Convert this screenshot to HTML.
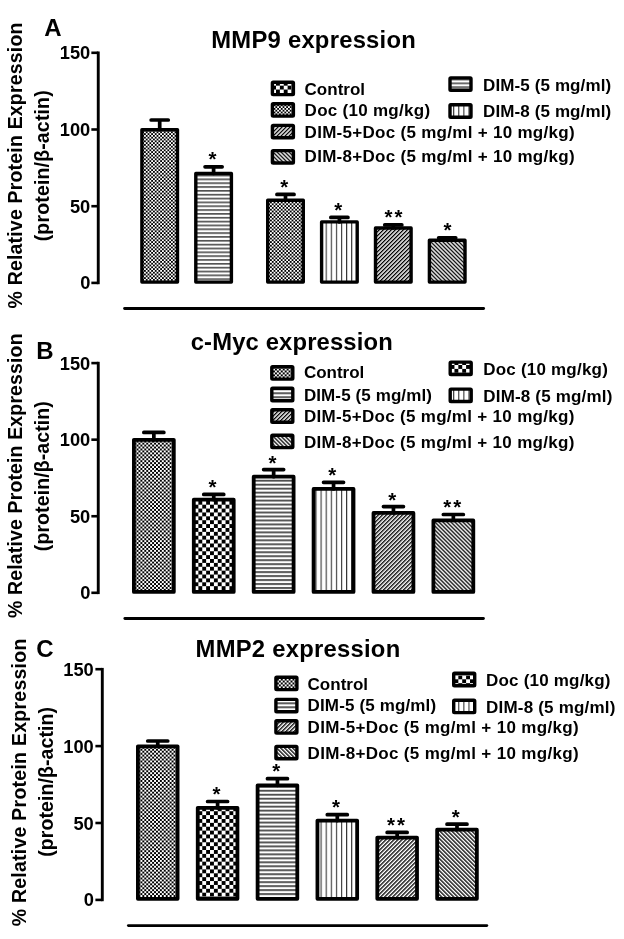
<!DOCTYPE html>
<html lang="en">
<head>
<meta charset="utf-8">
<title>Relative protein expression: MMP9, c-Myc, MMP2</title>
<style>
html,body{margin:0;padding:0;background:#fff;}
body{width:624px;height:939px;overflow:hidden;}
svg{display:block;will-change:transform;}
svg text{font-family:'Liberation Sans', Arial, Helvetica, sans-serif;fill:#000;}
</style>
</head>
<body>
<svg width="624" height="939" viewBox="0 0 624 939">
<rect width="624" height="939" fill="#fff"/>
<defs>
<pattern id="fine" width="3.9" height="3.9" patternUnits="userSpaceOnUse"><rect width="3.9" height="3.9" fill="#fff"/><rect x="0" y="0" width="1.95" height="1.95" fill="#000"/><rect x="1.95" y="1.95" width="1.95" height="1.95" fill="#000"/></pattern>
<pattern id="fineA" width="3.6" height="3.6" patternUnits="userSpaceOnUse"><rect width="3.6" height="3.6" fill="#fff"/><rect x="0" y="0" width="1.8" height="1.8" fill="#000"/><rect x="1.8" y="1.8" width="1.8" height="1.8" fill="#000"/></pattern>
<pattern id="coarse" width="7.76" height="7.76" patternUnits="userSpaceOnUse" x="0.5" y="0.3"><rect width="7.76" height="7.76" fill="#fff"/><rect x="0" y="0" width="3.88" height="3.88" fill="#000"/><rect x="3.88" y="3.88" width="3.88" height="3.88" fill="#000"/></pattern>
<pattern id="hl" width="8" height="3.975" patternUnits="userSpaceOnUse" y="2.77"><rect width="8" height="3.975" fill="#fff"/><rect x="0" y="0" width="8" height="1.8" fill="#484848"/></pattern>
<pattern id="hlA" width="8" height="3.84" patternUnits="userSpaceOnUse" y="1.85"><rect width="8" height="3.84" fill="#fff"/><rect x="0" y="0" width="8" height="1.65" fill="#505050"/></pattern>
<pattern id="vl" width="5.1" height="8" patternUnits="userSpaceOnUse" x="4.35"><rect width="5.1" height="8" fill="#fff"/><rect x="0" y="0" width="1.1" height="8" fill="#333"/></pattern>
<pattern id="dg1" width="2.83" height="2.83" patternUnits="userSpaceOnUse" patternTransform="rotate(45)"><rect width="2.83" height="2.83" fill="#fff"/><rect x="0" y="0" width="1.32" height="2.83" fill="#000"/></pattern>
<pattern id="dg2" width="2.83" height="2.83" patternUnits="userSpaceOnUse" patternTransform="rotate(-45)"><rect width="2.83" height="2.83" fill="#fff"/><rect x="0" y="0" width="1.32" height="2.83" fill="#000"/></pattern>
</defs>
<g>
<path d="M98.25 51.50V284.20" stroke="#000" stroke-width="2.9" fill="none"/>
<path d="M91.35 282.90H98.25" stroke="#000" stroke-width="2.6" fill="none"/>
<text x="90.3" y="289.40" font-size="18.3" font-weight="bold" text-anchor="end">0</text>
<path d="M91.35 206.20H98.25" stroke="#000" stroke-width="2.6" fill="none"/>
<text x="90.3" y="212.70" font-size="18.3" font-weight="bold" text-anchor="end">50</text>
<path d="M91.35 129.50H98.25" stroke="#000" stroke-width="2.6" fill="none"/>
<text x="90.3" y="136.00" font-size="18.3" font-weight="bold" text-anchor="end">100</text>
<path d="M91.35 52.80H98.25" stroke="#000" stroke-width="2.6" fill="none"/>
<text x="90.3" y="59.30" font-size="18.3" font-weight="bold" text-anchor="end">150</text>
<path d="M124.6 308.5H483.6" stroke="#000" stroke-width="2.9" stroke-linecap="round" fill="none"/>
<rect x="141.90" y="129.70" width="35.60" height="152.40" fill="url(#fineA)" stroke="#000" stroke-width="3.4" stroke-linejoin="round"/>
<path d="M151.15 120.00H168.25M159.70 120.00V129.70" stroke="#000" stroke-width="3.7" stroke-linecap="round" fill="none"/>
<rect x="195.80" y="173.50" width="35.60" height="108.60" fill="url(#hlA)" stroke="#000" stroke-width="3.4" stroke-linejoin="round"/>
<path d="M205.05 166.80H222.15M213.60 166.80V173.50" stroke="#000" stroke-width="3.7" stroke-linecap="round" fill="none"/>
<text x="212.40" y="166.05" font-size="20.5" font-weight="bold" text-anchor="middle">*</text>
<rect x="267.70" y="200.20" width="35.60" height="81.90" fill="url(#fineA)" stroke="#000" stroke-width="3.4" stroke-linejoin="round"/>
<path d="M276.95 194.40H294.05M285.50 194.40V200.20" stroke="#000" stroke-width="3.7" stroke-linecap="round" fill="none"/>
<text x="284.30" y="193.65" font-size="20.5" font-weight="bold" text-anchor="middle">*</text>
<rect x="321.60" y="221.90" width="35.60" height="60.20" fill="url(#vl)" stroke="#000" stroke-width="3.4" stroke-linejoin="round"/>
<path d="M330.85 217.40H347.95M339.40 217.40V221.90" stroke="#000" stroke-width="3.7" stroke-linecap="round" fill="none"/>
<text x="338.20" y="216.65" font-size="20.5" font-weight="bold" text-anchor="middle">*</text>
<rect x="375.50" y="228.00" width="35.60" height="54.10" fill="url(#dg1)" stroke="#000" stroke-width="3.4" stroke-linejoin="round"/>
<path d="M384.75 224.90H401.85M393.30 224.90V228.00" stroke="#000" stroke-width="3.7" stroke-linecap="round" fill="none"/>
<text x="394.50" y="224.15" font-size="20.5" font-weight="bold" text-anchor="middle" letter-spacing="2.0">**</text>
<rect x="429.40" y="240.20" width="35.60" height="41.90" fill="url(#dg2)" stroke="#000" stroke-width="3.4" stroke-linejoin="round"/>
<path d="M438.65 237.80H455.75M447.20 237.80V240.20" stroke="#000" stroke-width="3.7" stroke-linecap="round" fill="none"/>
<text x="447.60" y="237.05" font-size="20.5" font-weight="bold" text-anchor="middle">*</text>
<text x="44.3" y="36" font-size="24" font-weight="bold" text-anchor="start">A</text>
<text x="211.3" y="48.2" font-size="23.8" font-weight="bold" text-anchor="start" textLength="204.5" lengthAdjust="spacing">MMP9 expression</text>
<text transform="translate(22.1 165.5) rotate(-90)" font-size="19.5" font-weight="bold" text-anchor="middle" textLength="286" lengthAdjust="spacing">% Relative Protein Expression</text>
<text transform="translate(49.3 165.8) rotate(-90)" font-size="19.5" font-weight="bold" text-anchor="middle" textLength="151" lengthAdjust="spacing">(protein/β-actin)</text>
<rect x="272.40" y="82.20" width="21.00" height="12.40" rx="0.8" fill="url(#coarse)" stroke="#000" stroke-width="3.4" stroke-linejoin="round"/>
<text x="304.6" y="94.6" font-size="17" font-weight="bold" text-anchor="start">Control</text>
<rect x="272.40" y="103.70" width="21.00" height="12.40" rx="0.8" fill="url(#fineA)" stroke="#000" stroke-width="3.4" stroke-linejoin="round"/>
<text x="304.6" y="115.7" font-size="17" font-weight="bold" text-anchor="start" textLength="125.5" lengthAdjust="spacing">Doc (10 mg/kg)</text>
<rect x="272.40" y="125.40" width="21.00" height="12.40" rx="0.8" fill="url(#dg1)" stroke="#000" stroke-width="3.4" stroke-linejoin="round"/>
<text x="304.6" y="138" font-size="17" font-weight="bold" text-anchor="start" textLength="270" lengthAdjust="spacing">DIM-5+Doc (5 mg/ml + 10 mg/kg)</text>
<rect x="272.40" y="150.60" width="21.00" height="12.40" rx="0.8" fill="url(#dg2)" stroke="#000" stroke-width="3.4" stroke-linejoin="round"/>
<text x="304.6" y="162.4" font-size="17" font-weight="bold" text-anchor="start" textLength="270" lengthAdjust="spacing">DIM-8+Doc (5 mg/ml + 10 mg/kg)</text>
<rect x="450.00" y="77.90" width="21.00" height="12.40" rx="0.8" fill="url(#hlA)" stroke="#000" stroke-width="3.4" stroke-linejoin="round"/>
<text x="483.0" y="90.5" font-size="17" font-weight="bold" text-anchor="start" textLength="128.2" lengthAdjust="spacing">DIM-5 (5 mg/ml)</text>
<rect x="450.00" y="104.80" width="21.00" height="12.40" rx="0.8" fill="url(#vl)" stroke="#000" stroke-width="3.4" stroke-linejoin="round"/>
<text x="483.0" y="117.3" font-size="17" font-weight="bold" text-anchor="start" textLength="128.2" lengthAdjust="spacing">DIM-8 (5 mg/ml)</text>
</g>
<g>
<path d="M98.25 361.80V594.10" stroke="#000" stroke-width="2.9" fill="none"/>
<path d="M91.35 592.80H98.25" stroke="#000" stroke-width="2.6" fill="none"/>
<text x="90.3" y="599.30" font-size="18.3" font-weight="bold" text-anchor="end">0</text>
<path d="M91.35 516.23H98.25" stroke="#000" stroke-width="2.6" fill="none"/>
<text x="90.3" y="522.73" font-size="18.3" font-weight="bold" text-anchor="end">50</text>
<path d="M91.35 439.67H98.25" stroke="#000" stroke-width="2.6" fill="none"/>
<text x="90.3" y="446.17" font-size="18.3" font-weight="bold" text-anchor="end">100</text>
<path d="M91.35 363.10H98.25" stroke="#000" stroke-width="2.6" fill="none"/>
<text x="90.3" y="369.60" font-size="18.3" font-weight="bold" text-anchor="end">150</text>
<path d="M124.9 618.5H483.4" stroke="#000" stroke-width="2.9" stroke-linecap="round" fill="none"/>
<rect x="133.90" y="439.80" width="39.90" height="152.10" fill="url(#fine)" stroke="#000" stroke-width="3.8" stroke-linejoin="round"/>
<path d="M143.85 432.40H163.85M153.85 432.40V439.80" stroke="#000" stroke-width="3.7" stroke-linecap="round" fill="none"/>
<rect x="193.80" y="499.70" width="39.90" height="92.20" fill="url(#coarse)" stroke="#000" stroke-width="3.8" stroke-linejoin="round"/>
<path d="M203.75 494.40H223.75M213.75 494.40V499.70" stroke="#000" stroke-width="3.7" stroke-linecap="round" fill="none"/>
<text x="212.55" y="494.35" font-size="20.5" font-weight="bold" text-anchor="middle">*</text>
<rect x="253.70" y="476.70" width="39.90" height="115.20" fill="url(#hl)" stroke="#000" stroke-width="3.8" stroke-linejoin="round"/>
<path d="M263.65 469.60H283.65M273.65 469.60V476.70" stroke="#000" stroke-width="3.7" stroke-linecap="round" fill="none"/>
<text x="272.45" y="469.55" font-size="20.5" font-weight="bold" text-anchor="middle">*</text>
<rect x="313.60" y="488.90" width="39.90" height="103.00" fill="url(#vl)" stroke="#000" stroke-width="3.8" stroke-linejoin="round"/>
<path d="M323.55 482.30H343.55M333.55 482.30V488.90" stroke="#000" stroke-width="3.7" stroke-linecap="round" fill="none"/>
<text x="332.35" y="482.25" font-size="20.5" font-weight="bold" text-anchor="middle">*</text>
<rect x="373.50" y="512.90" width="39.90" height="79.00" fill="url(#dg1)" stroke="#000" stroke-width="3.8" stroke-linejoin="round"/>
<path d="M383.45 506.60H403.45M393.45 506.60V512.90" stroke="#000" stroke-width="3.7" stroke-linecap="round" fill="none"/>
<text x="392.25" y="506.55" font-size="20.5" font-weight="bold" text-anchor="middle">*</text>
<rect x="433.40" y="520.40" width="39.90" height="71.50" fill="url(#dg2)" stroke="#000" stroke-width="3.8" stroke-linejoin="round"/>
<path d="M443.35 514.50H463.35M453.35 514.50V520.40" stroke="#000" stroke-width="3.7" stroke-linecap="round" fill="none"/>
<text x="453.15" y="514.45" font-size="20.5" font-weight="bold" text-anchor="middle" letter-spacing="2.0">**</text>
<text x="36.3" y="359" font-size="24" font-weight="bold" text-anchor="start">B</text>
<text x="190.7" y="350.0" font-size="23.8" font-weight="bold" text-anchor="start" textLength="202" lengthAdjust="spacing">c-Myc expression</text>
<text transform="translate(22.3 475.7) rotate(-90)" font-size="19.5" font-weight="bold" text-anchor="middle" textLength="284.6" lengthAdjust="spacing">% Relative Protein Expression</text>
<text transform="translate(49.2 476.2) rotate(-90)" font-size="19.5" font-weight="bold" text-anchor="middle" textLength="150" lengthAdjust="spacing">(protein/β-actin)</text>
<rect x="271.80" y="366.70" width="21.00" height="12.40" rx="0.8" fill="url(#fine)" stroke="#000" stroke-width="3.4" stroke-linejoin="round"/>
<text x="303.9" y="378.2" font-size="17" font-weight="bold" text-anchor="start">Control</text>
<rect x="271.80" y="388.30" width="21.00" height="12.40" rx="0.8" fill="url(#hl)" stroke="#000" stroke-width="3.4" stroke-linejoin="round"/>
<text x="303.9" y="400.8" font-size="17" font-weight="bold" text-anchor="start" textLength="128" lengthAdjust="spacing">DIM-5 (5 mg/ml)</text>
<rect x="271.80" y="409.80" width="21.00" height="12.40" rx="0.8" fill="url(#dg1)" stroke="#000" stroke-width="3.4" stroke-linejoin="round"/>
<text x="303.9" y="422" font-size="17" font-weight="bold" text-anchor="start" textLength="270.5" lengthAdjust="spacing">DIM-5+Doc (5 mg/ml + 10 mg/kg)</text>
<rect x="271.80" y="435.20" width="21.00" height="12.40" rx="0.8" fill="url(#dg2)" stroke="#000" stroke-width="3.4" stroke-linejoin="round"/>
<text x="303.9" y="448" font-size="17" font-weight="bold" text-anchor="start" textLength="270.5" lengthAdjust="spacing">DIM-8+Doc (5 mg/ml + 10 mg/kg)</text>
<rect x="450.20" y="362.10" width="21.00" height="12.40" rx="0.8" fill="url(#coarse)" stroke="#000" stroke-width="3.4" stroke-linejoin="round"/>
<text x="483.3" y="375" font-size="17" font-weight="bold" text-anchor="start" textLength="124.5" lengthAdjust="spacing">Doc (10 mg/kg)</text>
<rect x="450.20" y="389.10" width="21.00" height="12.40" rx="0.8" fill="url(#vl)" stroke="#000" stroke-width="3.4" stroke-linejoin="round"/>
<text x="483.3" y="402" font-size="17" font-weight="bold" text-anchor="start" textLength="129" lengthAdjust="spacing">DIM-8 (5 mg/ml)</text>
</g>
<g>
<path d="M102.3 667.90V901.20" stroke="#000" stroke-width="2.9" fill="none"/>
<path d="M95.40 899.90H102.3" stroke="#000" stroke-width="2.6" fill="none"/>
<text x="93.8" y="906.40" font-size="18.3" font-weight="bold" text-anchor="end">0</text>
<path d="M95.40 823.00H102.3" stroke="#000" stroke-width="2.6" fill="none"/>
<text x="93.8" y="829.50" font-size="18.3" font-weight="bold" text-anchor="end">50</text>
<path d="M95.40 746.10H102.3" stroke="#000" stroke-width="2.6" fill="none"/>
<text x="93.8" y="752.60" font-size="18.3" font-weight="bold" text-anchor="end">100</text>
<path d="M95.40 669.20H102.3" stroke="#000" stroke-width="2.6" fill="none"/>
<text x="93.8" y="675.70" font-size="18.3" font-weight="bold" text-anchor="end">150</text>
<path d="M128.4 925.6H486.8" stroke="#000" stroke-width="2.9" stroke-linecap="round" fill="none"/>
<rect x="137.90" y="746.30" width="39.70" height="152.50" fill="url(#fine)" stroke="#000" stroke-width="3.8" stroke-linejoin="round"/>
<path d="M147.75 741.00H167.75M157.75 741.00V746.30" stroke="#000" stroke-width="3.7" stroke-linecap="round" fill="none"/>
<rect x="197.75" y="807.80" width="39.70" height="91.00" fill="url(#coarse)" stroke="#000" stroke-width="3.8" stroke-linejoin="round"/>
<path d="M207.60 801.50H227.60M217.60 801.50V807.80" stroke="#000" stroke-width="3.7" stroke-linecap="round" fill="none"/>
<text x="216.40" y="800.95" font-size="20.5" font-weight="bold" text-anchor="middle">*</text>
<rect x="257.60" y="785.30" width="39.70" height="113.50" fill="url(#hl)" stroke="#000" stroke-width="3.8" stroke-linejoin="round"/>
<path d="M267.45 778.70H287.45M277.45 778.70V785.30" stroke="#000" stroke-width="3.7" stroke-linecap="round" fill="none"/>
<text x="276.25" y="778.15" font-size="20.5" font-weight="bold" text-anchor="middle">*</text>
<rect x="317.45" y="820.60" width="39.70" height="78.20" fill="url(#vl)" stroke="#000" stroke-width="3.8" stroke-linejoin="round"/>
<path d="M327.30 814.70H347.30M337.30 814.70V820.60" stroke="#000" stroke-width="3.7" stroke-linecap="round" fill="none"/>
<text x="336.10" y="814.15" font-size="20.5" font-weight="bold" text-anchor="middle">*</text>
<rect x="377.30" y="837.60" width="39.70" height="61.20" fill="url(#dg1)" stroke="#000" stroke-width="3.8" stroke-linejoin="round"/>
<path d="M387.15 832.40H407.15M397.15 832.40V837.60" stroke="#000" stroke-width="3.7" stroke-linecap="round" fill="none"/>
<text x="396.95" y="831.85" font-size="20.5" font-weight="bold" text-anchor="middle" letter-spacing="2.0">**</text>
<rect x="437.15" y="829.70" width="39.70" height="69.10" fill="url(#dg2)" stroke="#000" stroke-width="3.8" stroke-linejoin="round"/>
<path d="M447.00 824.20H467.00M457.00 824.20V829.70" stroke="#000" stroke-width="3.7" stroke-linecap="round" fill="none"/>
<text x="455.80" y="823.65" font-size="20.5" font-weight="bold" text-anchor="middle">*</text>
<text x="36.3" y="657.0" font-size="24" font-weight="bold" text-anchor="start">C</text>
<text x="195.6" y="657.0" font-size="23.8" font-weight="bold" text-anchor="start" textLength="204.6" lengthAdjust="spacing">MMP2 expression</text>
<text transform="translate(26.3 782.5) rotate(-90)" font-size="19.5" font-weight="bold" text-anchor="middle" textLength="287.7" lengthAdjust="spacing">% Relative Protein Expression</text>
<text transform="translate(53.0 781.9) rotate(-90)" font-size="19.5" font-weight="bold" text-anchor="middle" textLength="149.7" lengthAdjust="spacing">(protein/β-actin)</text>
<rect x="275.90" y="677.20" width="21.00" height="12.40" rx="0.8" fill="url(#fine)" stroke="#000" stroke-width="3.4" stroke-linejoin="round"/>
<text x="307.6" y="689.5" font-size="17" font-weight="bold" text-anchor="start">Control</text>
<rect x="275.90" y="699.40" width="21.00" height="12.40" rx="0.8" fill="url(#hl)" stroke="#000" stroke-width="3.4" stroke-linejoin="round"/>
<text x="307.6" y="711.3" font-size="17" font-weight="bold" text-anchor="start" textLength="128.5" lengthAdjust="spacing">DIM-5 (5 mg/ml)</text>
<rect x="275.90" y="720.70" width="21.00" height="12.40" rx="0.8" fill="url(#dg1)" stroke="#000" stroke-width="3.4" stroke-linejoin="round"/>
<text x="307.6" y="732.8" font-size="17" font-weight="bold" text-anchor="start" textLength="271" lengthAdjust="spacing">DIM-5+Doc (5 mg/ml + 10 mg/kg)</text>
<rect x="275.90" y="746.40" width="21.00" height="12.40" rx="0.8" fill="url(#dg2)" stroke="#000" stroke-width="3.4" stroke-linejoin="round"/>
<text x="307.6" y="758.6" font-size="17" font-weight="bold" text-anchor="start" textLength="271" lengthAdjust="spacing">DIM-8+Doc (5 mg/ml + 10 mg/kg)</text>
<rect x="453.70" y="673.30" width="21.00" height="12.40" rx="0.8" fill="url(#coarse)" stroke="#000" stroke-width="3.4" stroke-linejoin="round"/>
<text x="486" y="685.5" font-size="17" font-weight="bold" text-anchor="start" textLength="124.5" lengthAdjust="spacing">Doc (10 mg/kg)</text>
<rect x="453.70" y="700.20" width="21.00" height="12.40" rx="0.8" fill="url(#vl)" stroke="#000" stroke-width="3.4" stroke-linejoin="round"/>
<text x="486" y="713" font-size="17" font-weight="bold" text-anchor="start" textLength="129.4" lengthAdjust="spacing">DIM-8 (5 mg/ml)</text>
</g>
</svg>
</body>
</html>
